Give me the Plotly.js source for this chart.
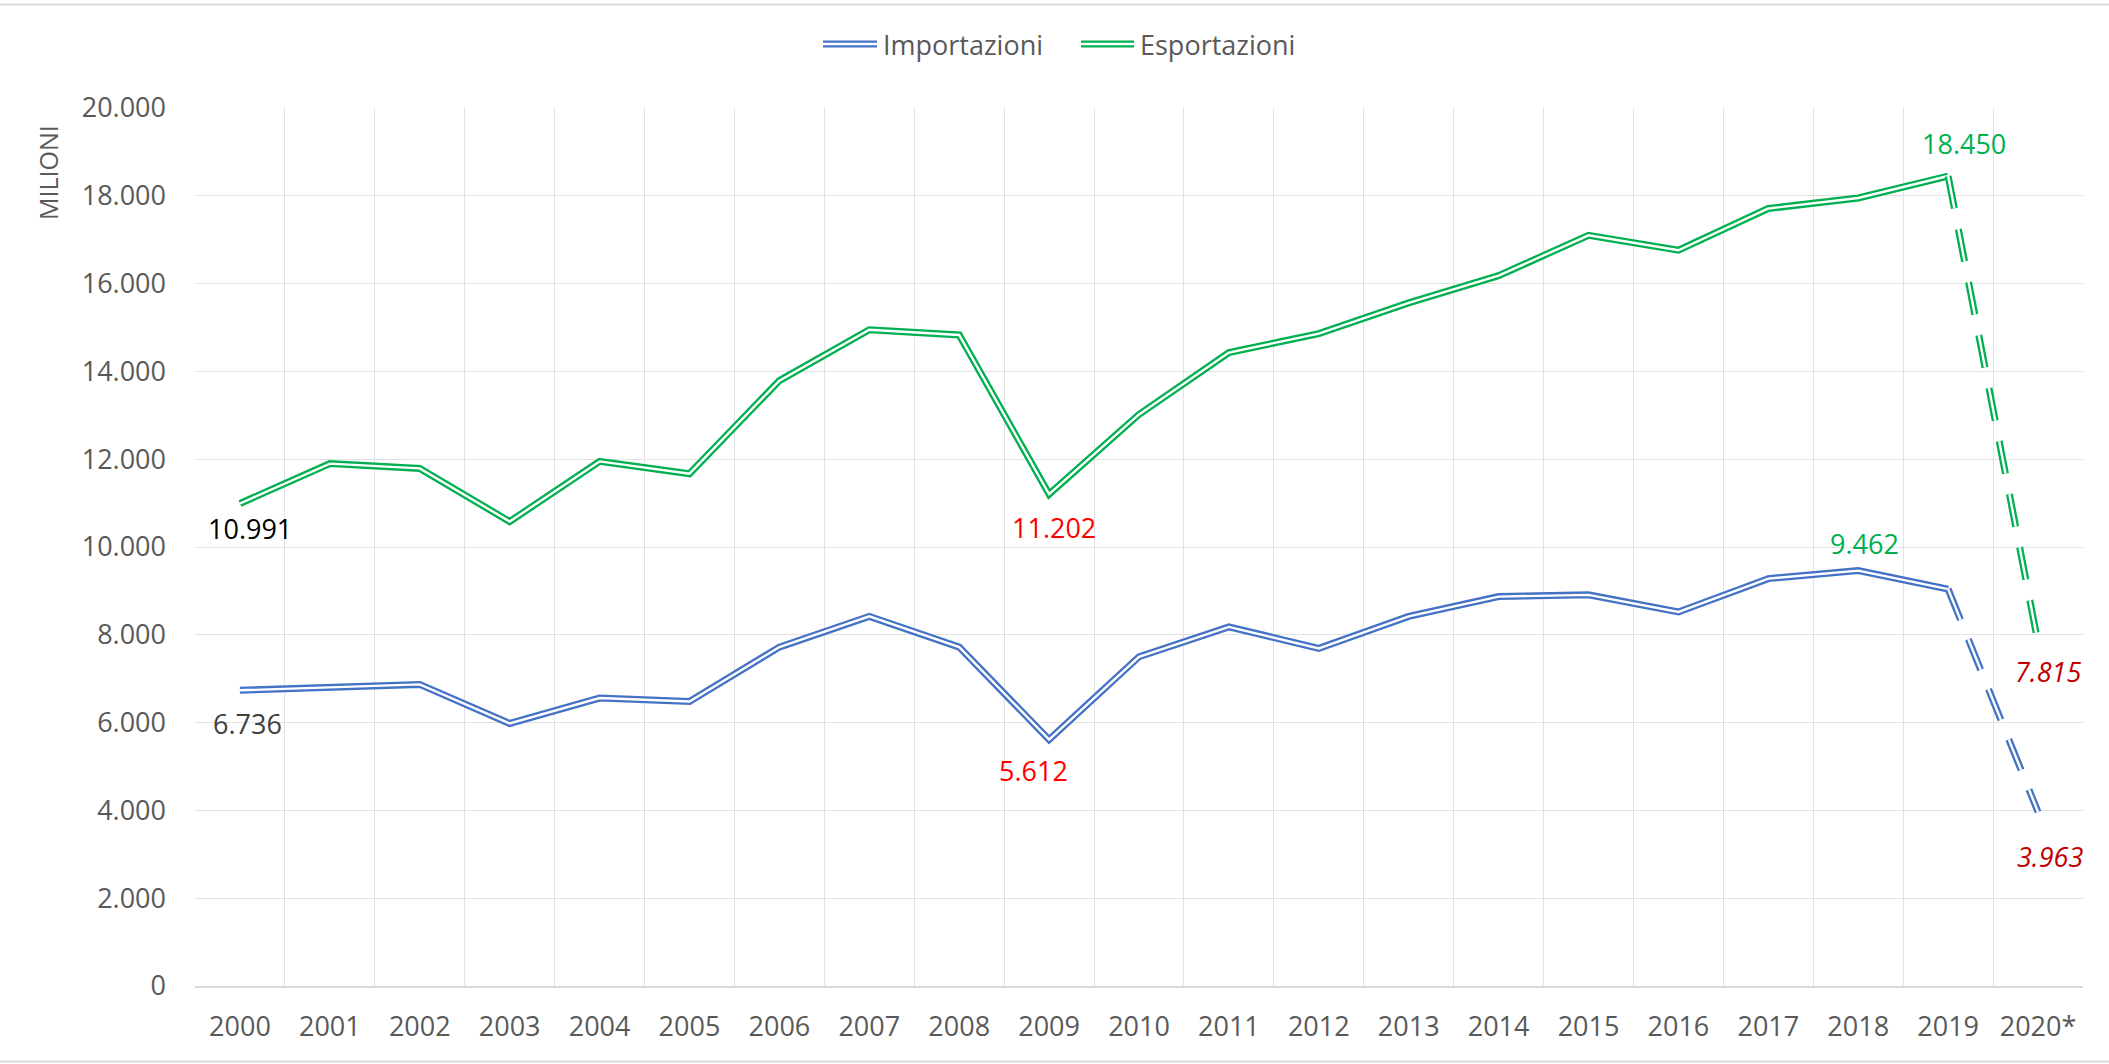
<!DOCTYPE html>
<html>
<head>
<meta charset="utf-8">
<script src="https://cdn.plot.ly/plotly-3.0.1.min.js"></script>
<style>
  html, body { margin: 0; padding: 0; background: #ffffff; }
  #chart { width: 2109px; height: 1064px; }
</style>
</head>
<body>
<div id="chart"></div>
<script>
// ---- Data ----
const years = ['2000','2001','2002','2003','2004','2005','2006','2007','2008','2009',
               '2010','2011','2012','2013','2014','2015','2016','2017','2018','2019','2020*'];
const importazioni = [6736, 6800, 6870, 5980, 6560, 6480, 7720, 8420, 7720, 5612,
                      7500, 8180, 7690, 8420, 8870, 8910, 8520, 9280, 9462, 9040, 3963];
const esportazioni = [10991, 11900, 11790, 10580, 11950, 11670, 13790, 14950, 14830, 11202,
                      13020, 14430, 14860, 15560, 16180, 17100, 16760, 17710, 17950, 18450, 7815];
const seriesNames = ['Importazioni', 'Esportazioni'];
const yTicks = [0, 2000, 4000, 6000, 8000, 10000, 12000, 14000, 16000, 18000, 20000];

// labelled points: [series, yearIndex, text]
const labelIdx = [
  ['esp', 0, '10.991'], ['imp', 0, '6.736'],
  ['esp', 9, '11.202'], ['imp', 9, '5.612'],
  ['esp', 19, '18.450'], ['imp', 18, '9.462'],
  ['esp', 20, '7.815'], ['imp', 20, '3.963']
];

// ---- Styling ----
const W = 2109, H = 1064;
const M = { l: 195, r: 26, t: 108, b: 78 };
const plotW = W - M.l - M.r, plotH = H - M.t - M.b;
const px2x = p => (p - M.l) / plotW;
const px2y = p => (H - M.b - p) / plotH;

const BLUE = '#4472C4', GREEN = '#00B050';
const FONT = 'Open Sans, Noto Sans, sans-serif';
const OUTER = 7, INNER = 2.4;
const DASH = '33px,21px';
const GRID = '#E2E2E2';

const last = years.length - 1;
const solidX = years.slice(0, last);
const dashX = years.slice(last - 1);

function doubleLine(x, y, color, dash) {
  return [
    { x: x, y: y, type: 'scatter', mode: 'lines', hoverinfo: 'skip', showlegend: false,
      line: { color: color, width: OUTER, dash: dash || 'solid', shape: 'linear' } },
    { x: x, y: y, type: 'scatter', mode: 'lines', hoverinfo: 'skip', showlegend: false,
      line: { color: '#ffffff', width: INNER, dash: dash || 'solid', shape: 'linear' } }
  ];
}

const traces = [].concat(
  doubleLine(solidX, importazioni.slice(0, last), BLUE),
  doubleLine(dashX, importazioni.slice(last - 1), BLUE, DASH),
  doubleLine(solidX, esportazioni.slice(0, last), GREEN),
  doubleLine(dashX, esportazioni.slice(last - 1), GREEN, DASH)
);

// label styles per index in labelIdx
const labelStyle = [
  { color: '#000000', italic: false, dx: 10, dy: -25 },
  { color: '#404040', italic: false, dx: 8, dy: -33 },
  { color: '#FF0000', italic: false, dx: 5, dy: -33 },
  { color: '#FF0000', italic: false, dx: -16, dy: -31 },
  { color: GREEN, italic: false, dx: 16, dy: 33 },
  { color: GREEN, italic: false, dx: 6, dy: 27 },
  { color: '#C00000', italic: true, dx: 10, dy: -29 },
  { color: '#C00000', italic: true, dx: 12, dy: -44 }
];

// annotations on a category axis: x given as the category's index
const annotations = labelIdx.map((l, i) => {
  const s = labelStyle[i];
  const arr = l[0] === 'esp' ? esportazioni : importazioni;
  return {
    x: l[1], y: arr[l[1]], xref: 'x', yref: 'y',
    text: s.italic ? '<i>' + l[2] + '</i>' : l[2],
    showarrow: false, xanchor: 'center', yanchor: 'middle',
    xshift: s.dx, yshift: s.dy,
    font: { family: FONT, size: 27, color: s.color }
  };
});

// y-axis title
annotations.push({
  xref: 'paper', yref: 'paper', x: px2x(48), y: px2y(173),
  text: 'MILIONI', textangle: -90, showarrow: false,
  xanchor: 'center', yanchor: 'middle',
  font: { family: FONT, size: 25, color: '#595959' }
});

// custom legend
const legendItems = [
  { name: seriesNames[0], color: BLUE, x0: 823, x1: 877, tx: 881 },
  { name: seriesNames[1], color: GREEN, x0: 1081, x1: 1134, tx: 1138 }
];
const LEG_Y = 44;
const shapes = [];
legendItems.forEach(it => {
  annotations.push({
    xref: 'paper', yref: 'paper', x: px2x(it.tx), y: px2y(LEG_Y),
    text: it.name, showarrow: false, xanchor: 'left', yanchor: 'middle',
    font: { family: FONT, size: 27, color: '#595959' }
  });
  shapes.push({ type: 'line', xref: 'paper', yref: 'paper', layer: 'above',
    x0: px2x(it.x0), x1: px2x(it.x1), y0: px2y(LEG_Y), y1: px2y(LEG_Y),
    line: { color: it.color, width: OUTER } });
  shapes.push({ type: 'line', xref: 'paper', yref: 'paper', layer: 'above',
    x0: px2x(it.x0), x1: px2x(it.x1), y0: px2y(LEG_Y), y1: px2y(LEG_Y),
    line: { color: '#ffffff', width: INNER } });
});

// chart outer border lines (top and bottom)
shapes.push({ type: 'line', xref: 'paper', yref: 'paper', layer: 'below',
  x0: px2x(0), x1: px2x(W), y0: px2y(4.5), y1: px2y(4.5),
  line: { color: '#D9D9D9', width: 2 } });
shapes.push({ type: 'line', xref: 'paper', yref: 'paper', layer: 'below',
  x0: px2x(0), x1: px2x(W), y0: px2y(1061.5), y1: px2y(1061.5),
  line: { color: '#D9D9D9', width: 2 } });

const layout = {
  width: W, height: H,
  margin: M,
  paper_bgcolor: '#ffffff', plot_bgcolor: '#ffffff',
  separators: ',.',
  showlegend: false,
  font: { family: FONT, color: '#595959', size: 27 },
  xaxis: {
    type: 'category', categoryorder: 'array', categoryarray: years,
    range: [-0.5, years.length - 0.5],
    tickson: 'boundaries', ticks: '', showgrid: true,
    gridcolor: GRID, gridwidth: 1,
    showline: true, linecolor: '#D9D9D9', linewidth: 2,
    tickfont: { family: FONT, size: 27, color: '#595959' },
    ticklabelstandoff: 16,
    fixedrange: true
  },
  yaxis: {
    range: [0, 20000], tickmode: 'array', tickvals: yTicks,
    tickformat: ',d', ticks: '', showgrid: true,
    gridcolor: GRID, gridwidth: 1,
    zeroline: false, showline: false,
    tickfont: { family: FONT, size: 27, color: '#595959' },
    ticklabelstandoff: 28,
    fixedrange: true
  },
  annotations: annotations,
  shapes: shapes
};

Plotly.newPlot('chart', traces, layout, { staticPlot: true, displayModeBar: false });
</script>
</body>
</html>
